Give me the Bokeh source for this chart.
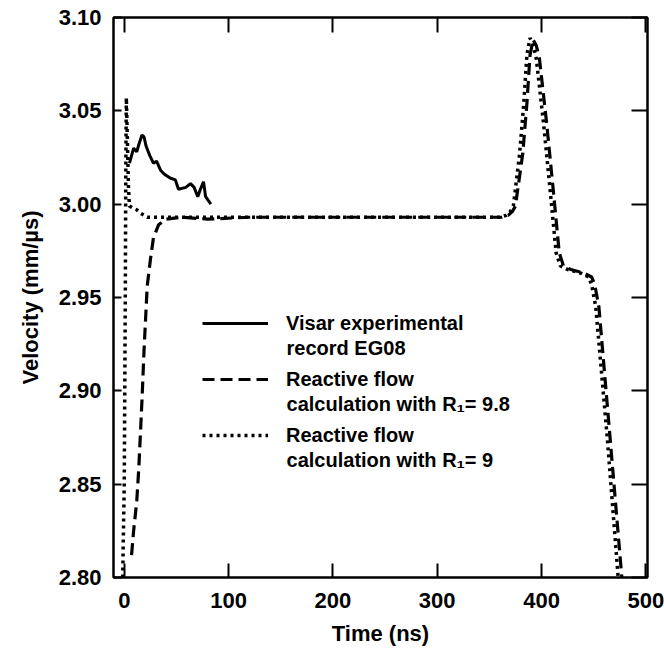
from bokeh.plotting import figure
from bokeh.models import (LinearAxis, Range1d, Legend, LegendItem, Label,
                          FixedTicker, PrintfTickFormatter)
from bokeh.embed import file_html
from bokeh.resources import INLINE

# ---------------- data ----------------
visar_t = [5, 9, 12, 14, 17, 19, 21, 24.5, 28, 31, 35, 38.5, 44, 49, 52,
           59, 63.5, 67, 70.5, 73, 76, 78, 83]
visar_v = [3.022, 3.030, 3.028, 3.032, 3.037, 3.036, 3.031, 3.026, 3.022,
           3.023, 3.018, 3.016, 3.014, 3.013, 3.008, 3.009, 3.011, 3.009,
           3.004, 3.008, 3.012, 3.004, 3.000]

r98_t = [7, 9, 12, 14, 15.5, 17, 19, 20.5, 22, 25, 28, 33, 40, 55, 80, 120,
         200, 300, 362, 368, 372, 375, 382, 386, 389, 392, 395, 398, 405,
         411, 417, 421, 428, 441, 448, 451, 455, 466, 477]
r98_v = [2.812, 2.825, 2.841, 2.859, 2.877, 2.895, 2.922, 2.939, 2.956,
         2.970, 2.982, 2.989, 2.992, 2.993, 2.992, 2.993, 2.993, 2.993,
         2.993, 2.994, 2.996, 2.999, 3.027, 3.054, 3.080, 3.088, 3.085,
         3.078, 3.043, 3.009, 2.974, 2.967, 2.965, 2.963, 2.961, 2.957,
         2.945, 2.873, 2.800]

r9_t = [-1.5, 0, 1, 1.5, 2, 3, 4, 5, 8, 12, 16, 22, 30, 60, 100, 200, 300,
        360, 366, 370, 373, 379, 383, 386, 389, 392, 395, 402, 408, 414,
        418, 425, 438, 445, 448, 452, 463, 473.5]
r9_v = [2.800, 2.850, 2.950, 3.020, 3.057, 3.035, 3.010, 2.999, 2.998,
        2.997, 2.995, 2.993, 2.993, 2.993, 2.993, 2.993, 2.993, 2.993,
        2.994, 2.996, 2.999, 3.027, 3.054, 3.080, 3.089, 3.085, 3.078,
        3.043, 3.009, 2.974, 2.967, 2.965, 2.963, 2.961, 2.957, 2.945,
        2.875, 2.800]

x_ticks = [0, 100, 200, 300, 400, 500]
y_ticks = [2.80, 2.85, 2.90, 2.95, 3.00, 3.05, 3.10]

legend_first = ["Visar experimental",
                "Reactive flow",
                "Reactive flow"]
legend_second = ["record EG08",
                 "calculation with R\u2081= 9.8",
                 "calculation with R\u2081= 9"]

x_label = "Time (ns)"
y_label = "Velocity (mm/\u00b5s)"

# ---------------- figure ----------------
FONT = "Liberation Sans"

p = figure(width=664, height=649,
           x_range=Range1d(-10.3, 501.6), y_range=Range1d(2.80, 3.10),
           output_backend="svg", toolbar_location=None,
           min_border_left=113, min_border_right=17,
           min_border_top=17, min_border_bottom=72,
           x_axis_location=None, y_axis_location=None)
p.xgrid.visible = False
p.ygrid.visible = False
p.outline_line_color = "black"
p.outline_line_width = 2
p.background_fill_color = "white"
p.border_fill_color = "white"


def style_axis(ax, ticks, tick_in, show_labels, label=None):
    ax.ticker = FixedTicker(ticks=ticks)
    ax.axis_line_color = "black"
    ax.axis_line_width = 2
    ax.major_tick_line_color = "black"
    ax.major_tick_line_width = 2
    ax.major_tick_in = tick_in
    ax.major_tick_out = 0
    ax.minor_tick_line_color = None
    if show_labels:
        ax.major_label_text_font = FONT
        ax.major_label_text_font_style = "bold"
        ax.major_label_text_font_size = "22px"
        ax.major_label_text_color = "black"
        ax.major_label_text_line_height = 1.0
    else:
        ax.major_label_text_font_size = "0px"
        ax.major_label_text_alpha = 0
        ax.major_label_standoff = 0
    if label:
        ax.axis_label = label
        ax.axis_label_text_font = FONT
        ax.axis_label_text_font_style = "bold"
        ax.axis_label_text_font_size = "22px"
        ax.axis_label_text_color = "black"
        ax.axis_label_text_line_height = 1.0


xb = LinearAxis()
style_axis(xb, x_ticks, 14, True, x_label)
xb.major_label_standoff = 15
xb.axis_label_standoff = 10
p.add_layout(xb, "below")

yl = LinearAxis()
style_axis(yl, y_ticks, 8, True, y_label)
yl.formatter = PrintfTickFormatter(format="%.2f")
yl.major_label_standoff = 12
yl.axis_label_standoff = 13
p.add_layout(yl, "left")

xt = LinearAxis()
style_axis(xt, x_ticks, 15, False)
p.add_layout(xt, "above")

yr = LinearAxis()
style_axis(yr, y_ticks, 16, False)
p.add_layout(yr, "right")

# ---------------- curves ----------------
r_dot = p.line(r9_t, r9_v, line_color="black", line_width=3.5,
               line_dash="3 4")
r_dash = p.line(r98_t, r98_v, line_color="black", line_width=3.2,
                line_dash="12 6")
r_solid = p.line(visar_t, visar_v, line_color="black", line_width=3)

# ---------------- legend ----------------
legend = Legend(items=[LegendItem(label=legend_first[0], renderers=[r_solid]),
                       LegendItem(label=legend_first[1], renderers=[r_dash]),
                       LegendItem(label=legend_first[2], renderers=[r_dot])],
                location=(89, 130), orientation="vertical",
                glyph_width=66, glyph_height=24, label_height=24,
                spacing=32, label_standoff=18, padding=0, margin=0,
                border_line_alpha=0, background_fill_alpha=0,
                label_text_font=FONT, label_text_font_style="bold",
                label_text_font_size="20px", label_text_color="black")
p.add_layout(legend)

second_y = [2.9232, 2.8932, 2.8627]
for txt, yy in zip(legend_second, second_y):
    p.add_layout(Label(x=155.6, y=yy, text=txt, text_baseline="middle",
                       text_font=FONT, text_font_style="bold",
                       text_font_size="20px", text_color="black"))

open("out.html", "w").write(file_html(p, INLINE))
